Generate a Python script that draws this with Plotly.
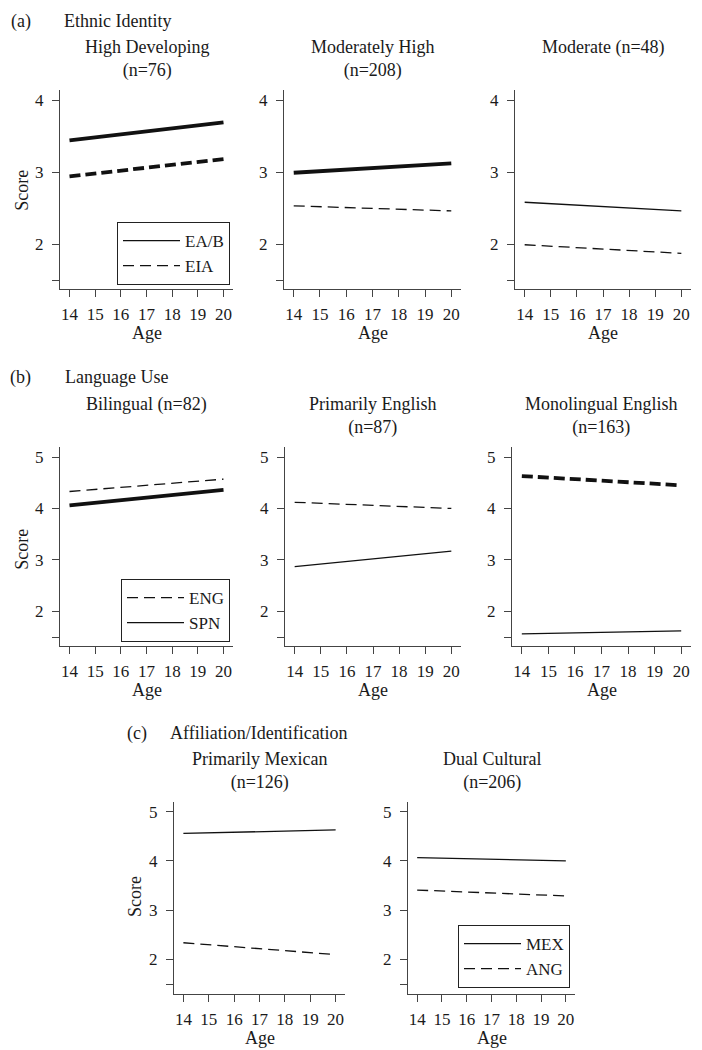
import plotly.graph_objects as go

# ---------------- data ----------------
ages = [14, 20]
age_ticks = [14, 15, 16, 17, 18, 19, 20]

# (a) Ethnic Identity
a_high_EAB = [3.44, 3.69]
a_high_EIA = [2.94, 3.18]
a_modhigh_EAB = [2.99, 3.12]
a_modhigh_EIA = [2.53, 2.46]
a_mod_EAB = [2.58, 2.46]
a_mod_EIA = [1.99, 1.87]

# (b) Language Use
b_bil_ENG = [4.33, 4.57]
b_bil_SPN = [4.06, 4.36]
b_prim_ENG = [4.12, 4.00]
b_prim_SPN = [2.87, 3.17]
b_mono_ENG = [4.63, 4.45]
b_mono_SPN = [1.56, 1.62]

# (c) Affiliation/Identification
c_mex_MEX = [4.56, 4.63]
c_mex_ANG = [2.34, 2.10]
c_dual_MEX = [4.07, 4.00]
c_dual_ANG = [3.41, 3.29]

a_yticks = [1.5, 2, 3, 4]
a_yticktext = ["", "2", "3", "4"]
bc_yticks = [1.5, 2, 3, 4, 5]
bc_yticktext = ["", "2", "3", "4", "5"]

# ---------------- layout helpers ----------------
W, H = 702, 1050
FONT = "Liberation Serif"
TXT = "#1a1a1a"
AX = "#444444"
THICK, THIN = 3.8, 1.3
DASH_THIN = "11px,6px"
DASH_THICK = "11px,5px"
TS = 18  # title / label text size
KS = 17  # tick label size


def fx(p):
    return p / W


def fy(p):
    return 1 - p / H


panels = [
    dict(x=(60, 233), y=(90, 289), yr=[1.375, 4.14], yt=a_yticks, ytt=a_yticktext,
         title="High Developing<br>(n=76)", ty=59,
         s=[(a_high_EAB, "solid", THICK), (a_high_EIA, DASH_THICK, THICK)]),
    dict(x=(284, 461), y=(90, 289), yr=[1.375, 4.14], yt=a_yticks, ytt=a_yticktext,
         title="Moderately High<br>(n=208)", ty=59,
         s=[(a_modhigh_EAB, "solid", THICK), (a_modhigh_EIA, DASH_THIN, THIN)]),
    dict(x=(515, 691), y=(90, 289), yr=[1.375, 4.14], yt=a_yticks, ytt=a_yticktext,
         title="Moderate (n=48)", ty=48,
         s=[(a_mod_EAB, "solid", THIN), (a_mod_EIA, DASH_THIN, THIN)]),
    dict(x=(60, 233), y=(447, 646), yr=[1.325, 5.195], yt=bc_yticks, ytt=bc_yticktext,
         title="Bilingual (n=82)", ty=405,
         s=[(b_bil_ENG, DASH_THIN, THIN), (b_bil_SPN, "solid", THICK)]),
    dict(x=(285, 461), y=(447, 646), yr=[1.325, 5.195], yt=bc_yticks, ytt=bc_yticktext,
         title="Primarily English<br>(n=87)", ty=416,
         s=[(b_prim_ENG, DASH_THIN, THIN), (b_prim_SPN, "solid", THIN)]),
    dict(x=(512, 691), y=(447, 646), yr=[1.325, 5.195], yt=bc_yticks, ytt=bc_yticktext,
         title="Monolingual English<br>(n=163)", ty=416,
         s=[(b_mono_ENG, DASH_THICK, THICK), (b_mono_SPN, "solid", THIN)]),
    dict(x=(174, 345), y=(802, 994), yr=[1.3, 5.197], yt=bc_yticks, ytt=bc_yticktext,
         title="Primarily Mexican<br>(n=126)", ty=771,
         s=[(c_mex_MEX, "solid", THIN), (c_mex_ANG, DASH_THIN, THIN)]),
    dict(x=(408, 575), y=(802, 994), yr=[1.3, 5.197], yt=bc_yticks, ytt=bc_yticktext,
         title="Dual Cultural<br>(n=206)", ty=771,
         s=[(c_dual_MEX, "solid", THIN), (c_dual_ANG, DASH_THIN, THIN)]),
]

fig = go.Figure()
layout = dict(
    width=W, height=H, autosize=False,
    margin=dict(l=0, r=0, t=0, b=0),
    paper_bgcolor="white", plot_bgcolor="white",
    font=dict(family=FONT, size=KS, color=TXT),
    showlegend=True,
)
annotations = []

for i, p in enumerate(panels):
    n = "" if i == 0 else str(i + 1)
    xa, ya = "x" + n, "y" + n
    for vals, dash, w in p["s"]:
        fig.add_trace(go.Scatter(
            x=ages, y=vals, mode="lines", xaxis=xa, yaxis=ya,
            line=dict(color="#111111", width=w, dash=dash),
            showlegend=False, hoverinfo="skip"))
    common = dict(showline=True, linecolor=AX, linewidth=1.2, ticks="outside",
                  ticklen=7, tickwidth=1.2, tickcolor=AX, showgrid=False,
                  zeroline=False, tickfont=dict(size=KS, color=TXT, family=FONT))
    layout["xaxis" + n] = dict(domain=[fx(p["x"][0]), fx(p["x"][1])], anchor=ya,
                               range=[13.63, 20.37], tickvals=age_ticks,
                               ticklabelstandoff=2, **common)
    layout["yaxis" + n] = dict(domain=[fy(p["y"][1]), fy(p["y"][0])], anchor=xa,
                               range=p["yr"], tickvals=p["yt"], ticktext=p["ytt"],
                               ticklabelstandoff=5, **common)
    cx = (p["x"][0] + p["x"][1]) / 2
    annotations.append(dict(text=p["title"], x=fx(cx), y=fy(p["ty"]), xref="paper", yref="paper",
                            showarrow=False, xanchor="center", yanchor="middle",
                            font=dict(size=TS)))
    age_y = {90: 333, 447: 690, 802: 1038}[p["y"][0]]
    annotations.append(dict(text="Age", x=fx(cx), y=fy(age_y), xref="paper", yref="paper",
                            showarrow=False, xanchor="center", yanchor="middle",
                            font=dict(size=TS)))

# Score labels
for sx, sy in [(21.7, 190), (21.7, 549), (135, 897)]:
    annotations.append(dict(text="Score", x=fx(sx), y=fy(sy), xref="paper", yref="paper",
                            showarrow=False, textangle=-90, xanchor="center",
                            yanchor="middle", font=dict(size=TS)))

# section headers
for lab, lx, txt, tx, ty in [("(a)", 9, "Ethnic Identity", 62, 21),
                             ("(b)", 8, "Language Use", 63, 377),
                             ("(c)", 125, "Affiliation/Identification", 168, 733)]:
    annotations.append(dict(text=lab, x=fx(lx), y=fy(ty), xref="paper", yref="paper",
                            showarrow=False, xanchor="left", yanchor="middle",
                            font=dict(size=TS)))
    annotations.append(dict(text=txt, x=fx(tx), y=fy(ty), xref="paper", yref="paper",
                            showarrow=False, xanchor="left", yanchor="middle",
                            font=dict(size=TS)))

# legend entries (thin line samples as in the reference)
legend_items = [
    ("legend", "EA/B", "solid"), ("legend", "EIA", DASH_THIN),
    ("legend2", "ENG", DASH_THIN), ("legend2", "SPN", "solid"),
    ("legend3", "MEX", "solid"), ("legend3", "ANG", DASH_THIN),
]
for lg, name, dash in legend_items:
    fig.add_trace(go.Scatter(x=[None], y=[None], mode="lines", name=name, legend=lg,
                             line=dict(color="#111111", width=THIN, dash=dash),
                             hoverinfo="skip"))

legend_common = dict(xanchor="right", yanchor="bottom", bordercolor="#222222", borderwidth=1,
                     bgcolor="white", font=dict(size=17, family=FONT, color=TXT),
                     itemwidth=57, tracegroupgap=0, traceorder="normal")
layout["legend"] = dict(x=fx(230), y=fy(285), **legend_common)
layout["legend2"] = dict(x=fx(230), y=fy(642), **legend_common)
layout["legend3"] = dict(x=fx(570), y=fy(988), **legend_common)
layout["annotations"] = annotations

fig.update_layout(**layout)
fig.write_html("out.html",
               config={"displayModeBar": False},
               post_script="document.body.style.margin='0';document.body.style.padding='0';"
                           "document.body.style.overflow='hidden';")
